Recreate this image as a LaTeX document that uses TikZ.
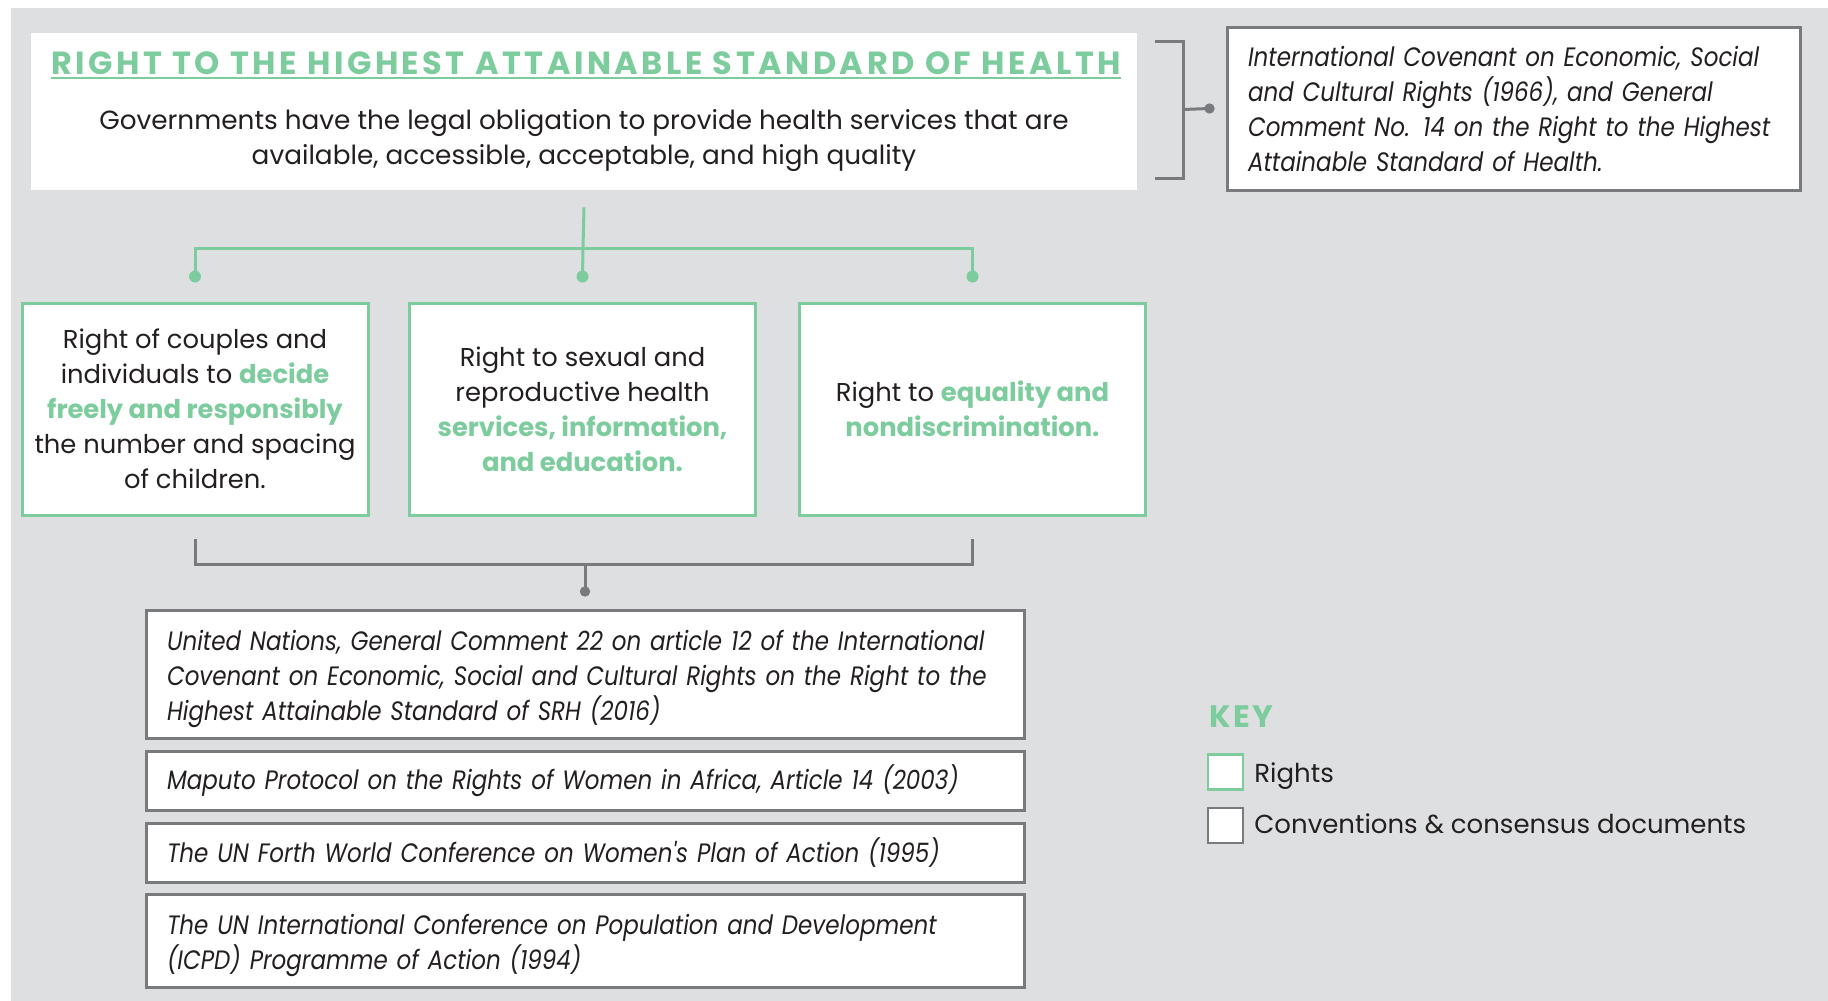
\documentclass[tikz,border=0pt]{standalone}
\usepackage{fontspec}
\setmainfont{Poppins}
\newfontfamily\titlefont[LetterSpace=11]{Poppins}
\newfontfamily\keyfont[LetterSpace=8]{Poppins}
\newfontfamily\docfont[FakeStretch=0.865]{Poppins}
\definecolor{rightgreen}{RGB}{125,204,158}
\definecolor{docgrey}{RGB}{121,122,126}
\definecolor{bggrey}{RGB}{222,223,225}
\definecolor{textdark}{RGB}{35,31,32}
\newcommand{\keyword}[1]{{\bfseries\color{rightgreen}#1}}
\newcommand{\docstrut}{\rule{0pt}{15pt}}
\tikzset{
  rightbox/.style={draw=rightgreen, line width=1.5pt, fill=white, minimum width=173pt,
    minimum height=106pt, align=center, inner sep=0pt, text=textdark,
    font=\fontsize{12.9}{17.5}\selectfont},
  docbox/.style={draw=docgrey, line width=1.5pt, fill=white, text width=418pt,
    align=left, inner xsep=10.5pt, inner ysep=0pt, text=textdark,
    font=\docfont\itshape\fontsize{13.3}{17.5}\selectfont},
  greenline/.style={draw=rightgreen, line width=1.5pt},
  greyline/.style={draw=docgrey, line width=1.5pt},
}
\begin{document}
\begin{tikzpicture}[x=0.5pt, y=-0.5pt]
\useasboundingbox (0,0) rectangle (1828,1001);
% draw background
\fill[bggrey] (11,8) rectangle (1828,1001);
% draw header
\node[fill=white, minimum width=553pt, minimum height=78.5pt, inner sep=0pt] (header) at (584,111.5) {};
\node[anchor=base, inner sep=0pt, text=rightgreen, font=\titlefont\bfseries\fontsize{16}{18}\selectfont] (title) at (586,74)
  {RIGHT TO THE HIGHEST ATTAINABLE STANDARD OF HEALTH};
\draw[rightgreen, line width=0.8pt] ([yshift=-2pt]title.base west) -- ([yshift=-2pt]title.base east);
\node[align=center, text=textdark, font=\fontsize{13.15}{17.5}\selectfont] (duty) at (584,141)
  {Governments have the legal obligation to provide health services that are\\available, accessible, acceptable, and high quality};
% draw covenant and bracket
\node[docbox, text width=265.5pt, minimum height=81.5pt] (icescr) at (1513.5,108.5)
  {International Covenant on Economic, Social\\and Cultural Rights (1966), and General\\Comment No. 14 on the Right to the Highest\\Attainable Standard of Health.};
\coordinate (brtop) at (1155,41);
\coordinate (brbot) at (1155,178);
\coordinate (brmid) at (1183,109.5);
\coordinate (icdot) at ([xshift=-8pt]icescr.west);
\draw[greyline] (brtop) -| (brmid) |- (brbot);
\draw[greyline] (brmid) -- (icdot);
\fill[docgrey] (icdot) circle (2.6pt);
% draw rights
\node[rightbox] (couples) at (195,409)
  {Right of couples and\\individuals to \keyword{decide}\\\keyword{freely and responsibly}\\the number and spacing\\of children.};
\node[rightbox] (services) at (582.5,409)
  {Right to sexual and\\reproductive health\\\keyword{services, information,}\\\keyword{and education.}};
\node[rightbox] (equality) at (972.5,409)
  {Right to \keyword{equality and}\\\keyword{nondiscrimination.}};
% draw green connector
\coordinate (gtop) at ([yshift=-8.5pt]header.south);
\coordinate (gbar) at (583,248);
\coordinate (gdot1) at ([yshift=12.5pt]couples.north);
\coordinate (gdot2) at ([yshift=12.5pt]services.north);
\coordinate (gdot3) at ([yshift=12.5pt]equality.north);
\draw[greenline] (gtop) -- (gbar);
\draw[greenline] (gdot1) |- (gbar) -| (gdot3);
\draw[greenline] (gbar) -- (gdot2);
\foreach \d in {gdot1,gdot2,gdot3}
  \fill[rightgreen] (\d) circle (3pt);
% draw documents
\node[docbox, minimum height=64pt] (gc22) at (585,674)
  {\docstrut United Nations, General Comment 22 on article 12 of the International\\Covenant on Economic, Social and Cultural Rights on the Right to the\\Highest Attainable Standard of SRH (2016)};
\node[docbox, minimum height=29.5pt] (maputo) at (585,781)
  {\rule{0pt}{12.5pt}Maputo Protocol on the Rights of Women in Africa, Article 14 (2003)};
\node[docbox, minimum height=29.5pt] (beijing) at (585,853)
  {The UN Forth World Conference on Women's Plan of Action (1995)};
\node[docbox, minimum height=46.5pt] (icpd) at (585,940.5)
  {\docstrut The UN International Conference on Population and Development\\(ICPD) Programme of Action (1994)};
% draw grey connector
\coordinate (cleft) at ([yshift=-11pt]couples.south);
\coordinate (cright) at ([yshift=-11pt]equality.south);
\coordinate (cbar) at (585,564);
\coordinate (cdot) at ([yshift=8.5pt]gc22.north);
\draw[greyline] (cleft) |- (cbar) -| (cright);
\draw[greyline] (cbar) -- (cdot);
\fill[docgrey] (cdot) circle (2.6pt);
% draw key
\node[anchor=base west, inner sep=0pt, text=rightgreen, font=\keyfont\bfseries\fontsize{15.5}{18}\selectfont] (keyhead) at (1209,727) {KEY};
\node[draw=rightgreen, line width=1.3pt, fill=white, minimum size=17.5pt, inner sep=0pt] (keyright) at (1225.5,772) {};
\node[anchor=base west, inner sep=0pt, text=textdark, font=\fontsize{13}{16}\selectfont] (keyrighttxt) at (1254,782) {Rights};
\node[draw=docgrey, line width=1.3pt, fill=white, minimum size=17.5pt, inner sep=0pt] (keydoc) at (1225.5,825.5) {};
\node[anchor=base west, inner sep=0pt, text=textdark, font=\fontsize{13}{16}\selectfont] (keydoctxt) at (1254,833) {Conventions \& consensus documents};
\end{tikzpicture}
\end{document}
